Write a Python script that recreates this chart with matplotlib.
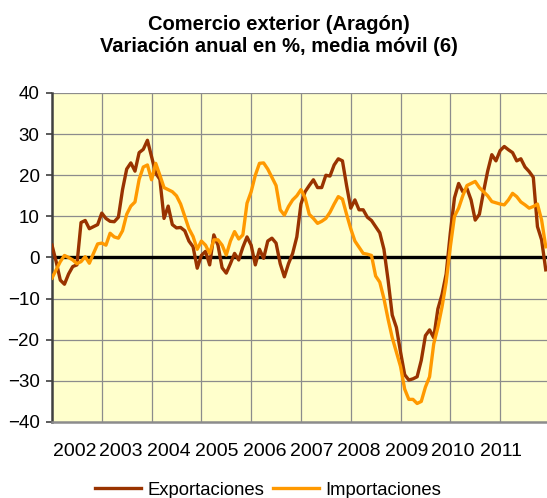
import matplotlib
matplotlib.use("Agg")
import matplotlib.pyplot as plt
import numpy as np

plt.rcParams['font.family'] = ['Liberation Sans', 'DejaVu Sans']

# monthly values, 6-month moving average of annual change (%)
exportaciones = [
    3.0, -1.0, -5.5, -6.5, -4.0, -2.2, -1.8, 8.5, 9.0, 7.0, 7.5, 8.0,
    10.8, 9.5, 8.8, 8.7, 9.8, 16.5, 21.5, 23.0, 21.0, 25.5, 26.3, 28.5,
    24.5, 20.5, 19.0, 9.5, 12.5, 8.0, 7.2, 7.3, 6.5, 4.0, 2.6, -2.6,
    0.5, 1.5, -1.8, 5.5, 3.0, -2.5, -3.8, -1.5, 1.0, -0.6, 2.5, 5.0,
    3.0, -1.8, 2.0, -0.2, 4.0, 4.7, 3.5, -1.5, -4.7, -1.5, 1.0, 5.0,
    13.0, 16.0, 17.5, 18.9, 17.0, 17.0, 20.0, 19.8, 22.5, 24.0, 23.5, 17.5,
    12.0, 14.0, 11.6, 11.6, 9.8, 9.0, 7.5, 6.0, 2.0, -5.5, -14.0, -17.0,
    -23.0, -28.5, -29.8, -29.5, -29.0, -25.0, -19.0, -17.6, -19.5, -12.5, -9.0, -4.0,
    6.0, 14.5, 18.0, 16.0, 16.8, 14.0, 9.1, 10.5, 16.0, 21.0, 25.0, 23.5,
    26.0, 27.0, 26.2, 25.5, 23.5, 24.0, 22.0, 20.9, 19.5, 7.5, 4.3, -3.0,
]
importaciones = [
    -5.0, -3.0, -1.0, 0.5, 0.0, -0.6, -1.5, -1.0, 0.2, -1.4, 1.0, 3.3,
    3.5, 3.0, 5.9, 5.0, 4.7, 6.5, 10.5, 12.5, 13.5, 19.0, 22.0, 22.5,
    18.9, 22.9, 20.0, 17.0, 16.5, 16.0, 15.0, 13.0, 10.0, 7.0, 5.1, 2.0,
    4.0, 3.0, 1.0, 4.3, 4.3, 3.0, 0.6, 4.0, 6.3, 4.5, 5.5, 13.2,
    16.0, 20.0, 22.9, 23.0, 21.5, 19.5, 17.5, 11.6, 10.3, 12.4, 14.0, 15.0,
    16.5, 14.5, 10.5, 9.5, 8.3, 8.8, 9.5, 11.0, 13.0, 14.8, 14.2, 10.5,
    7.0, 4.0, 2.5, 1.0, 0.8, 0.5, -4.5, -6.0, -10.0, -15.0, -19.5, -23.0,
    -26.5, -32.0, -34.5, -34.5, -35.5, -35.0, -31.5, -29.0, -21.0, -17.0, -12.0, -6.0,
    2.6, 10.0, 12.0, 15.0, 17.5, 18.0, 18.5, 17.0, 16.0, 15.0, 13.6, 13.3,
    13.0, 12.8, 14.0, 15.6, 14.8, 13.5, 12.8, 12.0, 12.4, 13.0, 9.1, 2.6,
]
years = ['2002', '2003', '2004', '2005', '2006', '2007', '2008', '2009', '2010', '2011']
year_label_pos = [5.5, 16.6, 28.2, 39.8, 51.3, 62.6, 73.9, 85.5, 96.6, 108.2]

months = np.arange(len(exportaciones))

fig = plt.figure(figsize=(5.47, 4.98), dpi=100)
ax = fig.add_axes([52 / 547, 1 - 422 / 498, 495 / 547, 329 / 498])
ax.set_facecolor('#FFFFCC')

# grid
for m in range(12, 120, 12):
    ax.axvline(m, color='#8C8C8C', lw=0.9, zorder=1)
for v in range(-30, 41, 10):
    ax.axhline(v, color='#8C8C8C', lw=0.9, zorder=1)
ax.axhline(0, color='black', lw=2.4, zorder=2)

ax.plot(months, exportaciones, color='#993300', lw=2.4, label='Exportaciones',
        zorder=3, solid_joinstyle='round')
ax.plot(months, importaciones, color='#FF9900', lw=2.4, label='Importaciones',
        zorder=4, solid_joinstyle='round')

ax.set_xlim(0, 119.3)
ax.set_ylim(-40, 40)
ax.set_yticks(range(-40, 41, 10))
ax.set_xticks(year_label_pos)
ax.set_xticklabels(years)
ax.tick_params(axis='x', length=0, pad=15, labelsize=14)
ax.tick_params(axis='y', length=4, width=1.2, color='#404040', pad=5, labelsize=13.5)

for s in ['top', 'right']:
    ax.spines[s].set_visible(False)
ax.spines['left'].set_color('#404040')
ax.spines['left'].set_linewidth(1.8)
ax.spines['bottom'].set_color('#8C8C8C')
ax.spines['bottom'].set_linewidth(1.8)

fig.text(0.51, 1 - 24 / 498, 'Comercio exterior (Aragón)', ha='center', va='center',
         fontsize=14.5, fontweight='bold')
fig.text(0.51, 1 - 46 / 498, 'Variación anual en %, media móvil (6)', ha='center', va='center',
         fontsize=14.5, fontweight='bold')

fig.legend(loc='center', bbox_to_anchor=(268 / 547, 1 - 490 / 498), ncol=2, frameon=False,
           fontsize=13.3, handlelength=2.5, handletextpad=0.3, columnspacing=0.5,
           borderpad=0, borderaxespad=0)

fig.savefig('out.png', dpi=100)
